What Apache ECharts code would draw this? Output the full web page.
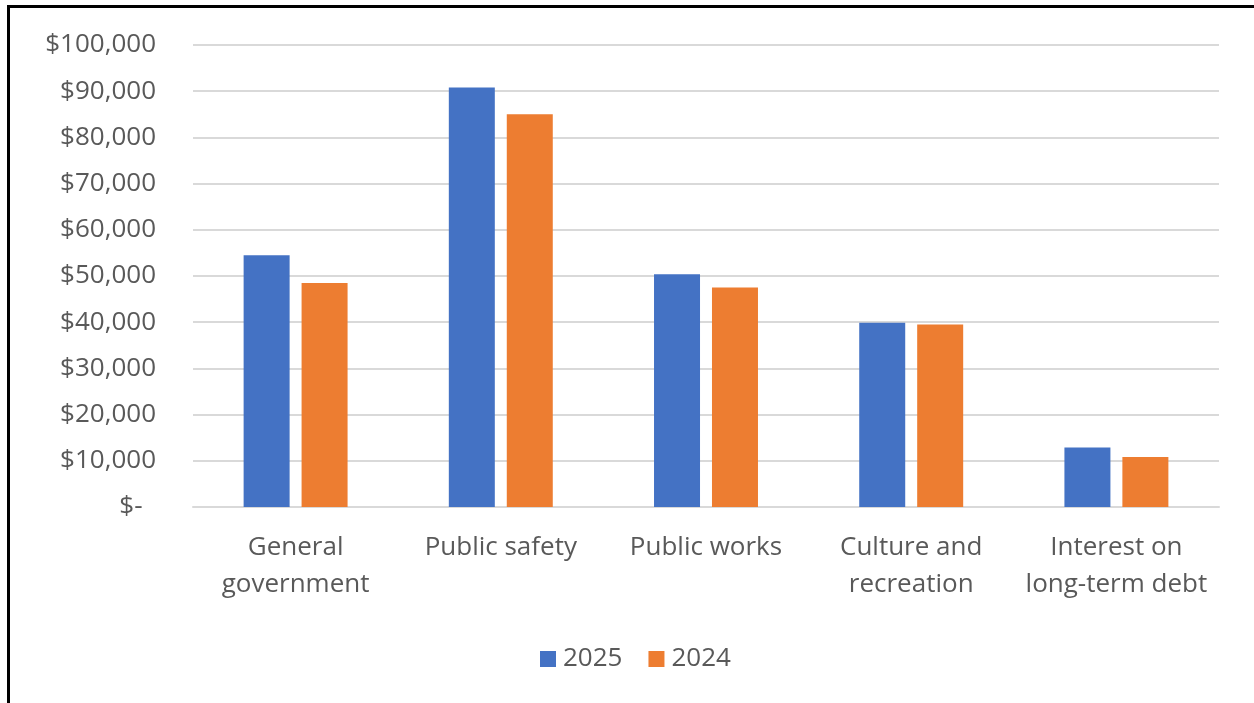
<!DOCTYPE html>
<html>
<head>
<meta charset="utf-8">
<script src="https://cdn.jsdelivr.net/npm/echarts@6/dist/echarts.min.js"></script>
<style>
  html, body { margin: 0; padding: 0; background: #fff; }
  #frame {
    position: absolute; left: 7px; top: 5px; width: 1260px; height: 710px;
    border-left: 3px solid #000; border-top: 3px solid #000;
  }
  #chart { position: absolute; left: 0; top: 0; width: 1254px; height: 703px; }
</style>
</head>
<body>
<div id="chart"></div>
<div id="frame"></div>
<script>
// categories and values
const categories = [
  'General\ngovernment',
  'Public safety',
  'Public works',
  'Culture and\nrecreation',
  'Interest on\nlong-term debt'
];
const seriesNames = ['2025', '2024'];
const values2025 = [54500, 90800, 50400, 39900, 12900];
const values2024 = [48500, 85000, 47500, 39500, 10800];

const textColor = '#595959';
const font = '"Open Sans", "Noto Sans", sans-serif';

const chartInstance = echarts.init(document.getElementById('chart'));

const option = {
  animation: false,
  textStyle: { fontFamily: font },
  legend: {
    data: seriesNames,
    bottom: 26,
    left: 535,
    itemWidth: 16,
    itemHeight: 16,
    itemGap: 26,
    icon: 'rect',
    textStyle: { color: textColor, fontSize: 26, fontFamily: font, padding: [0, 2, 0, 2] }
  },
  grid: {
    left: 193,
    right: 35,
    top: 45,
    bottom: 196
  },
  xAxis: {
    type: 'category',
    data: categories,
    axisTick: { show: false },
    axisLine: { lineStyle: { color: '#d9d9d9', width: 2 } },
    axisLabel: {
      color: textColor,
      fontSize: 26,
      lineHeight: 37,
      margin: 22,
      interval: 0,
      fontFamily: font
    }
  },
  yAxis: {
    type: 'value',
    min: 0,
    max: 100000,
    interval: 10000,
    axisLine: { show: false },
    axisTick: { show: false },
    splitLine: { lineStyle: { color: '#d9d9d9', width: 2 } },
    axisLabel: {
      color: textColor,
      fontSize: 26,
      margin: 37,
      fontFamily: font,
      formatter: (v) => v === 0 ? '$-  ' : '$' + v.toLocaleString('en-US')
    }
  },
  series: [
    {
      name: seriesNames[0],
      type: 'bar',
      data: values2025,
      barWidth: 46,
      barGap: '26%',
      itemStyle: { color: '#4472c4' }
    },
    {
      name: seriesNames[1],
      type: 'bar',
      data: values2024,
      barWidth: 46,
      barGap: '26%',
      itemStyle: { color: '#ed7d31' }
    }
  ]
};

chartInstance.setOption(option);
</script>
</body>
</html>
